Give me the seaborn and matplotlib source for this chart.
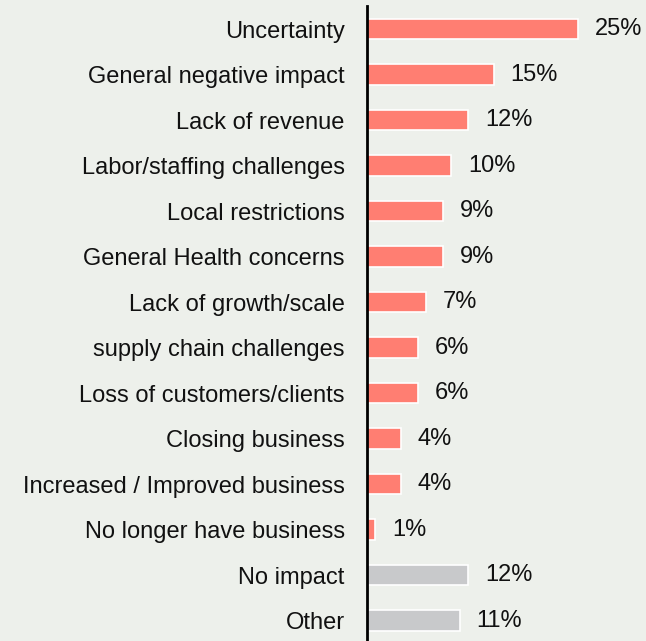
import matplotlib
matplotlib.use("Agg")
import matplotlib.pyplot as plt
import seaborn as sns
import pandas as pd

categories = [
    "Uncertainty",
    "General negative impact",
    "Lack of revenue",
    "Labor/staffing challenges",
    "Local restrictions",
    "General Health concerns",
    "Lack of growth/scale",
    "supply chain challenges",
    "Loss of customers/clients",
    "Closing business",
    "Increased / Improved business",
    "No longer have business",
    "No impact",
    "Other",
]
values = [25, 15, 12, 10, 9, 9, 7, 6, 6, 4, 4, 1, 12, 11]
groups = ["impact"] * 12 + ["neutral"] * 2

BG = "#EDF0EB"
palette = {"impact": "#FF7E72", "neutral": "#C8C9CB"}

df = pd.DataFrame({"category": categories, "value": values, "group": groups})

sns.set_theme(style="white")
plt.rcParams["font.family"] = ["Liberation Sans", "DejaVu Sans"]

fig = plt.figure(figsize=(6.46, 6.41), dpi=100, facecolor=BG)
ax = fig.add_axes([367 / 646, -2.25 / 641, 279 / 646, 637 / 641])
ax.set_facecolor(BG)

sns.barplot(
    data=df, y="category", x="value", hue="group", palette=palette,
    order=categories, dodge=False, width=0.46, legend=False, saturation=1,
    edgecolor="white", linewidth=1.2, ax=ax,
)

ax.set_xlim(0, 279 / 8.44)
ax.set_ylim(13.5, -0.5)
ax.set_xlabel("")
ax.set_ylabel("")
ax.set_xticks([])
ax.tick_params(axis="y", length=0, pad=16, labelsize=17, labelcolor="#111111")

for side in ("top", "right", "bottom"):
    ax.spines[side].set_visible(False)
ax.spines["left"].set_color("black")
ax.spines["left"].set_linewidth(2)

for i, v in enumerate(values):
    ax.annotate(f"{v}%", xy=(v, i), xytext=(12, 0), textcoords="offset points",
                va="center", ha="left", fontsize=17, color="#111111")

fig.savefig("out.png", dpi=100, facecolor=BG)
